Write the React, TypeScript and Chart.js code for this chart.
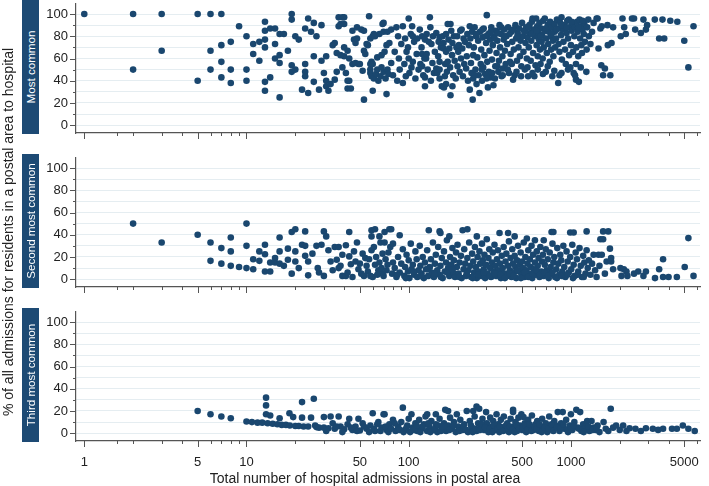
import React, { useEffect, useRef } from "react";
import { Chart, registerables } from "chart.js";

Chart.register(...registerables);

// ---------- data ----------
const xTickValues = [1, 1.6, 2, 3, 4, 5, 6, 7, 8, 9, 10, 20, 30, 40, 50, 60, 70, 80, 90, 100, 200, 300, 400, 500, 600, 700, 800, 900, 1000, 2000, 3000, 4000, 5000, 6000];
const xLabeledTicks = [1, 5, 10, 50, 100, 500, 1000, 5000];
const yTickValues = [0, 10, 20, 30, 40, 50, 60, 70, 80, 90, 100];
const yLabeledTicks = [0, 20, 40, 60, 80, 100];
const panelLabels = ["Most common", "Second most common", "Third most common"];
const xAxisTitle = "Total number of hospital admissions in postal area";
const yAxisTitle = "% of all admissions for residents in a postal area to hospital";

const mostCommon: [number, number][] = [
  [1,100],[2,100],[2,50],[3,100],[3,67],[5,100],[5,40],[6,100],[6,67],[6,50],[7,100],[7,72],[7,57],[7,43],[8,75],[8,50],[8,38],[9,89],[10,80],[10,50],[10,40],
  [11,73],[11,64],[12,75],[12,58],[13,93],[13,85],[13,77],[13,70],[13,39],[13,31],[14,87],[14,43],[15,87],[15,73],[15,60],[16,82],[16,63],[16,56],[16,25],[17,82],[18,67],[19,100],[19,95],[19,54],[19,48],[20,80],[20,50],[21,77],[22,32],[23,55],[23,48],[23,44],[23,87],[24,96],[24,29],[25,84],[26,92],[27,80],[26,62],[26,39],[28,32],[29,90],[29,58],
  [30,47],[31,62],[31,40],[31,35],[32,31],[33,37],[34,72],[35,74],[35,41],[36,48],[36,65],[37,97],[37,89],[38,91],[38,63],[39,97],[39,52],[40,97],[40,91],[40,70],[40,62],[41,47],[42,67],[42,40],[42,33],[43,60],[43,40],[44,33],[45,85],[45,55],[46,77],[47,74],[47,56],[48,88],[48,78],[49,55],[50,55],[51,86],[52,49],[53,85],[53,67],[53,23],[54,64],[55,73],[56,72],[57,98],[58,78],[58,55],[58,50],[58,47],[59,57],[59,44],[60,80],[60,55],[60,31],[61,82],[61,42],[62,80],[63,46],[64,61],[64,50],[65,40],[66,82],[67,44],[68,63],[68,52],[69,91],[70,84],[70,92],[70,48],[71,66],[72,42],[73,72],[73,28],[74,84],[74,50],[75,46],
  [76,74],[78,86],[78,56],[80,45],[82,66],[84,88],[85,40],[86,80],[87,60],[88,50],[90,73],[92,89],[92,38],[94,55],[95,78],[96,44],[97,66],[99,70],[100,96],[100,60],[101,47],[103,82],[104,52],[105,89],[106,80],[106,57],[108,75],[110,42],[112,64],[113,78],[115,50],[117,86],[118,55],[120,70],[121,80],[121,64],[121,53],[123,45],[125,60],[126,77],[126,43],[126,35],[128,60],[129,82],[129,64],[131,50],[133,75],[135,97],[136,88],[137,40],[138,73],[140,56],[141,80],[143,47],[145,66],[148,83],[148,51],[150,47],[152,62],[153,75],[155,79],[155,57],[155,50],[155,42],[158,70],[160,35],[162,80],[164,74],[164,69],[165,34],[167,44],[168,55],[170,82],[170,66],[170,37],[172,48],[174,91],[174,57],[176,77],[178,69],[180,52],[181,91],[181,27],[183,85],[185,63],[186,74],[186,35],[188,45],[190,80],[192,58],[195,42],[197,70],[199,80],[200,53],[202,66],[204,72],[206,48],[208,85],[210,60],[212,86],[214,69],[216,44],[218,78],[220,55],[222,75],[226,51],[228,62],[230,82],[232,40],[235,72],[238,89],[238,32],[240,78],[242,56],[244,47],[246,84],[248,23],[250,63],[250,42],
  [252,70],[255,88],[258,50],[260,80],[262,37],[265,61],[268,76],[270,45],[273,29],[275,84],[278,55],[280,68],[283,40],[285,79],[288,52],[290,87],[293,63],[296,46],[300,74],[303,99],[305,57],[308,34],[310,82],[312,48],[315,67],[318,77],[320,43],[323,88],[326,59],[330,72],[333,36],[336,80],[340,42],[342,53],[345,85],[348,65],[352,76],[357,48],[360,58],[363,90],[366,70],[370,82],[374,44],[378,62],[381,51],[385,77],[388,86],[392,67],[396,55],[400,80],[405,73],[410,88],[415,47],[421,57],[425,64],[430,84],[435,75],[440,41],[445,68],[450,45],[455,90],[460,78],[465,58],[470,83],[475,70],[480,87],[485,62],[490,76],[495,53],[500,92],[505,80],[510,66],[515,85],[520,50],[525,74],[530,88],[535,60],[540,79],[545,44],[550,70],[555,90],[560,83],[565,58],[570,76],[575,93],[580,96],[585,65],[590,86],[595,44],[600,80],[605,54],[610,96],[615,72],[620,89],[625,62],[630,83],[635,77],[640,92],[645,68],[650,55],[655,87],[660,75],[665,81],[670,60],[675,94],[680,70],[690,96],[695,85],[700,48],[705,78],[710,65],[720,90],[725,73],[730,84],[740,57],[745,93],[750,80],[755,68],[760,88],[768,44],[775,76],[780,62],[790,91],[795,84],[800,70],[810,78],[820,95],[830,87],[835,38],[840,73],[850,66],[860,92],[870,81],[875,97],[875,47],[880,59],[890,86],[900,75],[910,90],[920,68],[930,55],[940,83],[950,94],[960,78],[970,95],[975,63],[980,88],[992,52],[1000,72],[1010,85],[1020,92],[1030,66],[1040,47],[1050,80],[1060,88],[1075,55],[1075,41],[1080,70],[1090,93],[1100,84],[1110,62],[1120,39],[1130,95],[1140,78],[1150,89],[1160,72],[1170,65],[1180,86],[1200,82],[1210,92],[1220,75],[1245,48],[1250,68],[1260,88],[1280,95],[1290,80],
  [262,82],[285,86],[298,80],[320,84],[338,78],[355,83],[372,88],[392,80],[418,82],[442,86],[468,80],[520,84],[548,88],[575,82],[612,85],[650,80],[700,87],[760,82],[820,86],[880,90],[940,88],[1010,93],[1110,88],[1180,94],
  [255,45],[282,50],[302,42],[327,47],[352,53],[380,45],[408,50],[432,55],[462,48],[493,44],[540,52],[580,47],[625,50],[672,46],[720,53],[790,49],[850,45],[960,50],[1060,45],[1150,52],
  [1320,73],[1350,84],[1380,92],[1440,96],[1460,96],[1480,69],[1520,87],[1540,54],[1550,89],[1580,45],[1620,51],[1680,90],[1690,72],[1750,45],[1780,74],[1820,88],[2030,80],[2080,96],[2130,88],[2180,82],[2380,96],[2450,96],[2490,86],[2700,83],[2800,95],[2900,86],[2950,90],[3290,95],[3500,78],[3670,95],[3760,78],[4100,94],[4530,93],[5000,76],[5300,52],[5700,89],
];

const secondMostCommon: [number, number][] = [
  [2,50],[3,33],[5,40],[6,33],[6,16.5],[7,28],[7,14],[8,37.5],[8,25],[8,12],[9,11],[10,50],[10,30],[10,10],[11,18],[11,9],[12,25],[12,16.5],[13,31],[13,22.5],[13,7],[14,15],[14,7],[15,19],[15,15],[16,37.5],[16,25],[16,14],[17,12],[18,27.5],[18,17.5],[19,42.5],[19,5],[20,45],[20,25],[20,16],[21,10],[22,31],[23,43],[23,30],[23,21],[24,3.5],[24,16],[25.5,23],[27,30],[27.5,10],[28,6],[29,31],[30,3],[30,43],[31,38.5],[32,26],[33,16],[35,29],[36,17.5],[37,29],[37,10],[39,3],[39,22],[41,3],[41,30.6],[43,20.5],[43,42.5],[44,13.5],[46,25],[47,16],[48,33],[51,5],[52,23],[54,19],[56,7],[58,3],[59,44],[59,38.5],[59,26],[61,29],[62,45],[62,13],[65,8],[66,38.5],[67,33],[69,23],[69,5],[71,42.5],[71,33],[75,24],[76,45],[77,29],[78,45],[80,32],
  [34,8],[38,12],[42,6],[45,2],[49,9],[50,14],[53,3],[55,12],[57,18],[60,2],[63,20],[64,4],[66,15],[68,10],[70,3],[72,18],[73,8],[74,13],[79,5],[80,15],
  [82,10],[84,2],[86,20],[88,39.5],[88,6],[90,14],[92,27],[94,3],[95,11],[97,22],[99,7],[100,17],[101,1],[103,32],[104,9],[106,13],[108,4],[110,25],[112,18],[113,2],[115,8],[117,30],[118,12],[120,5],[122,20],[124,1],[126,15],[128,9],[130,26],[132,3],[133,44],[135,11],[137,18],[139,6],[141,33],[143,2],[145,14],[147,22],[150,8],[152,29],[155,43],[155,4],[157,41.6],[157,12],[160,19],[162,1],[165,25],[167,7],[170,15],[172,35],[175,10],[178,38.5],[178,3],[180,20],[183,13],[186,28],[188,6],[190,17],[193,2],[196,24],[198,11],[200,31],
  [203,5],[206,15],[210,21],[212,1],[215,44],[218,9],[220,27],[223,14],[226,3],[230,45],[230,19],[233,8],[236,33],[240,12],[243,2],[246,23],[250,16],[253,6],[256,29],[260,11],[263,38.5],[263,1],[266,20],[270,7],[273,25],[276,14],[280,3],[283,32],[286,17],[290,9],[293,22],[296,1],[300,13],[303,36],[306,5],[310,19],[314,27],[318,10],[322,2],[326,15],[330,24],[334,7],[338,31],[342,12],[346,3],[350,18],[355,26],[360,8],[363,41.6],[365,14],[370,1],[375,21],[380,10],[385,29],[390,5],[395,16],[400,23],[405,3],[410,41.6],[410,12],[415,34],[420,8],[425,19],[430,2],[435,27],[440,14],[445,6],[450,38.5],[450,21],[455,11],[460,1],[466,17],[472,30],[478,7],[484,13],[490,24],[496,4],[500,16],
  [506,10],[512,33],[518,2],[524,20],[530,8],[535,36.6],[540,14],[546,26],[552,5],[558,18],[565,11],[572,30],[578,1],[585,22],[592,9],[600,35],[600,15],[608,4],[616,25],[624,12],[632,19],[640,2],[648,29],[656,7],[664,16],[672,22],[680,35],[680,3],[690,13],[700,27],[710,8],[720,18],[730,1],[740,24],[750,11],[760,42.5],[760,5],[770,32],[780,42.5],[780,15],[790,20],[800,2],[812,9],[824,28],[836,14],[848,4],[860,22],[872,17],[885,7],[898,30],[910,11],[925,2],[940,25],[955,16],[970,6],[990,42],[990,20],[1005,9],[1020,31],[1040,42],[1040,13],[1055,3],[1070,24],[1090,18],[1110,7],[1130,28],[1150,12],[1170,2],[1190,21],[1210,15],[1230,5],[1250,43],[1250,26],[1270,10],[1290,17],
  [85,4],[96,1],[107,7],[119,3],[131,9],[144,5],[158,2],[173,6],[185,9],[205,2],[228,5],[248,1],[268,4],[291,6],[316,3],[340,5],[368,4],[392,1],[418,5],[443,3],[468,8],[492,1],[520,6],[548,2],[580,5],[612,8],[645,4],[685,6],[725,3],[770,6],[820,1],[880,3],[950,4],[1030,1],[1100,4],[1200,2],
  [1320,4],[1350,14],[1380,22],[1410,8],[1440,2],[1480,22],[1500,12],[1520,36],[1550,22],[1580,36],[1580,43],[1620,5],[1660,16],[1700,43],[1740,27.5],[1770,19],[1770,16],[1820,9],[2020,10],[2050,3],[2120,9],[2200,7],[2230,3],[2450,5],[2600,7],[2800,3],[2900,7],[3300,1],[3500,9],[3700,18],[3700,2],[4000,2],[4500,2],[5030,11],[5300,37],[5700,3],
];

const thirdMostCommon: [number, number][] = [
  [5,20],[6,17],[7,15],[8,13.5],[10,10.5],[10.8,10],[11.7,9.5],[12.5,9.5],[13.2,32],[13.2,25],[13.2,17],[13.5,9],[14,16],[14.5,8.5],[15.5,8],[16,13.5],[16.5,7.5],[17.5,7.5],[18.4,18],[18.5,7],[19.4,14.5],[20,6.5],[21,6.5],[22,28],[22,14],[22.5,6],[24,6],[25,14],[26,31],[26.5,7],[27,5.5],[28,5],[30,14.5],[30,5],[32,4.5],[33,15],[34,9],[35,4],[37,15],[38,6],[40,3.5],[42,8],[43,13],[45,3],[47,6],[49,13],[50,2.5],[52,9],[55,4],[58,7],[60,18],[62,2],[65,10],[68,5],[70,17],[71,17],[73,3],[76,8],[80,12],[83,2],[86,6],[90,10],[92,23],[95,3],[98,7],
  [100,13],[102,1],[104,17],[106,5],[110,9],[113,2],[116,12],[120,4],[124,8],[127,15],[130,17],[130,2],[134,6],[138,11],[142,3],[147,17],[147,8],[150,1],[155,13],[160,5],[165,9],[168,21],[170,2],[175,20],[175,7],[180,14],[185,4],[190,10],[195,1],[198,17],[202,6],[208,12],[214,3],[220,8],[228,20],[232,1],[238,11],[245,5],[250,20],[255,15],[262,24],[262,2],[268,9],[272,22],[278,6],[285,13],[292,3],[300,19],[303,9],[310,1],[318,14],[325,6],[332,11],[340,3],[348,17],[355,8],[362,1],[370,12],[378,5],[386,15],[395,3],[405,9],[415,1],[425,13],[440,21],[440,19],[445,6],[455,10],[465,2],[475,14],[485,7],[495,17],[500,3],[510,14.5],[520,9],[530,1],[545,12],[560,5],[575,16],[590,3],[605,8],[620,11],[635,2],[650,6],[665,13],[680,4],[700,9],[715,1],[735,15],[750,6],[770,3],[790,11],[810,7],[830,19],[850,2],[870,9],[890,19],[910,4],[935,12],[960,1],[985,7],[1000,17],[1020,3],[1050,10],[1080,21],[1100,5],[1140,19],[1160,2],[1190,8],[1220,4],[1260,11],[1300,2],[1340,11],[1380,5],[1420,3],[1460,7],[1500,1],
  [31,2],[36,6],[39,1],[44,5],[48,2],[53,6],[57,1],[61,4],[64,8],[67,2],[72,6],[75,1],[78,4],[82,9],[88,3],[93,1],[97,5],[108,3],[112,7],[118,1],[122,6],[132,9],[136,1],[145,4],[152,7],[158,2],[163,6],[178,3],[188,7],[205,2],[217,5],[225,3],[242,7],[248,1],[258,4],[275,3],[282,8],[296,5],[315,4],[328,1],[336,7],[352,4],[366,6],[382,2],[398,7],[410,4],[420,6],[435,3],[450,1],[460,8],[480,4],[505,5],[525,7],[540,3],[555,8],[570,2],[595,6],[615,4],[640,8],[660,1],[690,5],[725,4],[760,8],[780,2],[820,5],[860,4],[900,8],[950,3],[1000,5],[1040,7],[1120,4],[1200,1],[1280,6],[1360,3],[1440,5],
  [1590,10],[1640,4],[1700,2],[1760,22],[1820,5],[1900,7],[2000,3],[2100,7],[2200,2],[2300,4.5],[2500,4],[2700,2],[2900,4.5],[3200,4],[3450,3],[3700,4],[4200,4],[4500,4],[4900,7],[5300,4],[5800,2],
];

const panelData = [mostCommon, secondMostCommon, thirdMostCommon];

// ---------- style ----------
const NAVY = "#1a476f";
const STRIP = "#1d4a74";
const AXIS = "#555555";
const GRID = "#e5edf1";
const TEXT = "#222222";
const FONT = "'Liberation Sans', Arial, Helvetica, sans-serif";

const PANEL_TOPS = [0, 154, 308];
const PLOT_H = 133;
const PLOT_LEFT = 76;
const PLOT_RIGHT = 700;
const W = 709;

const tickMarksPlugin = {
  id: "tickMarks",
  afterDraw(chart: any) {
    const { ctx, chartArea, scales } = chart;
    const x = scales.x;
    const y = scales.y;
    ctx.save();
    ctx.strokeStyle = AXIS;
    ctx.lineWidth = 1;
    xTickValues.forEach((v) => {
      const px = Math.round(x.getPixelForValue(v)) + 0.5;
      const len = xLabeledTicks.includes(v) ? 6 : 3;
      ctx.beginPath();
      ctx.moveTo(px, chartArea.bottom);
      ctx.lineTo(px, chartArea.bottom + len);
      ctx.stroke();
    });
    yTickValues.forEach((v) => {
      const py = Math.round(y.getPixelForValue(v)) + 0.5;
      const len = yLabeledTicks.includes(v) ? 6 : 3;
      ctx.beginPath();
      ctx.moveTo(chartArea.left - len, py);
      ctx.lineTo(chartArea.left, py);
      ctx.stroke();
    });
    ctx.restore();
  },
};

function Panel({ index }: { index: number }) {
  const ref = useRef<HTMLCanvasElement | null>(null);
  const showLabels = index === 2;
  const height = PLOT_H + (showLabels ? 30 : 8);
  useEffect(() => {
    if (!ref.current) return;
    const chart = new Chart(ref.current, {
      type: "scatter",
      data: {
        datasets: [
          {
            data: panelData[index].map(([x, y]) => ({ x, y })),
            backgroundColor: NAVY,
            borderColor: NAVY,
            borderWidth: 0,
            pointRadius: 3.3,
            pointHoverRadius: 3.3,
          },
        ],
      },
      options: {
        responsive: false,
        animation: false,
        devicePixelRatio: 1,
        events: [],
        layout: { padding: { left: 0, right: W - PLOT_RIGHT, top: 0, bottom: 0 } },
        plugins: { legend: { display: false }, tooltip: { enabled: false } },
        scales: {
          x: {
            type: "logarithmic",
            min: 0.889,
            max: 6250,
            afterBuildTicks: (s: any) => {
              s.ticks = xTickValues.map((v) => ({ value: v }));
            },
            afterFit: (s: any) => {
              s.height = height - PLOT_H;
              s.paddingLeft = 0;
              s.paddingRight = 0;
            },
            grid: { display: false },
            border: { display: true, color: AXIS, width: 1.2 },
            ticks: {
              display: showLabels,
              autoSkip: false,
              maxRotation: 0,
              minRotation: 0,
              padding: 6,
              color: TEXT,
              font: { family: FONT, size: 13 },
              callback: (v: any) => (xLabeledTicks.includes(Number(v)) ? String(v) : ""),
            },
          },
          y: {
            type: "linear",
            min: -7,
            max: 109.65,
            afterBuildTicks: (s: any) => {
              s.ticks = yTickValues.map((v) => ({ value: v }));
            },
            afterFit: (s: any) => {
              s.width = PLOT_LEFT;
              s.paddingTop = 0;
              s.paddingBottom = 0;
            },
            grid: { display: true, color: GRID, lineWidth: 1, drawTicks: false },
            border: { display: true, color: AXIS, width: 1.2 },
            ticks: {
              autoSkip: false,
              padding: 8,
              color: TEXT,
              font: { family: FONT, size: 13 },
              callback: (v: any) => (yLabeledTicks.includes(Number(v)) ? String(v) : ""),
            },
          },
        },
      },
      plugins: [tickMarksPlugin],
    } as any);
    return () => chart.destroy();
  }, [index]);
  return (
    <canvas
      ref={ref}
      width={W}
      height={height}
      style={{ position: "absolute", left: 0, top: PANEL_TOPS[index], width: W, height }}
    />
  );
}

export default function App() {
  return (
    <div style={{ position: "fixed", left: 0, top: 0, width: W, height: 486, background: "#fff", fontFamily: FONT, overflow: "hidden" }}>
      {[0, 1, 2].map((i) => (
        <Panel key={i} index={i} />
      ))}
      {panelLabels.map((label, i) => (
        <div
          key={label}
          style={{ position: "absolute", left: 22, top: PANEL_TOPS[i], width: 17, height: PLOT_H + 1, background: STRIP }}
        >
          <span
            style={{
              position: "absolute",
              left: "50%",
              top: "50%",
              transform: "translate(-50%, -50%) rotate(-90deg)",
              color: "#ffffff",
              fontSize: 11.6,
              whiteSpace: "nowrap",
              lineHeight: 1,
            }}
          >
            {label}
          </span>
        </div>
      ))}
      <div
        style={{
          position: "absolute",
          left: 8,
          top: 232,
          transform: "translate(-50%, -50%) rotate(-90deg)",
          whiteSpace: "nowrap",
          fontSize: 14,
          color: TEXT,
          lineHeight: 1,
        }}
      >
        {yAxisTitle}
      </div>
      <div
        style={{
          position: "absolute",
          left: 365,
          top: 478,
          transform: "translate(-50%, -50%)",
          whiteSpace: "nowrap",
          fontSize: 14,
          color: TEXT,
          lineHeight: 1,
        }}
      >
        {xAxisTitle}
      </div>
    </div>
  );
}
